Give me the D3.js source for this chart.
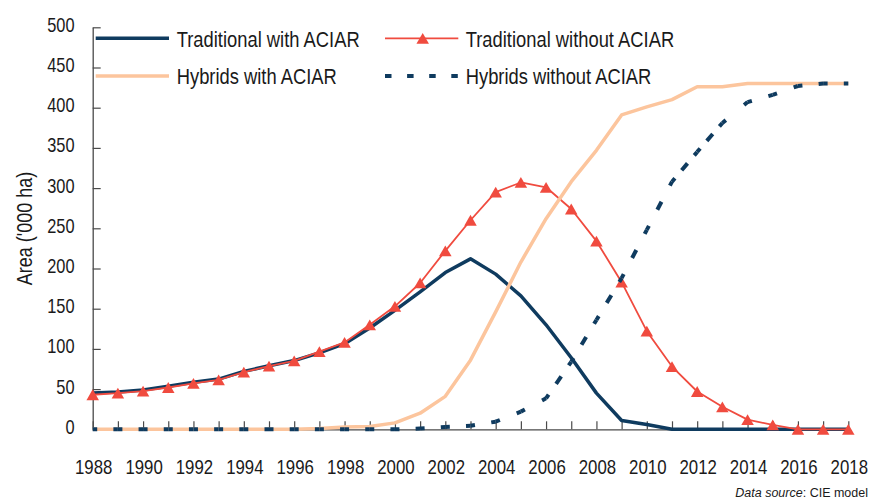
<!DOCTYPE html>
<html><head><meta charset="utf-8">
<script src="https://cdn.jsdelivr.net/npm/d3@7"></script>
<style>html,body{margin:0;padding:0;background:#fff;} svg{display:block;}</style>
</head><body>
<svg id="chart" width="879" height="503"></svg>
<script>
// ---------- data ----------
const years = [1988,1989,1990,1991,1992,1993,1994,1995,1996,1997,1998,1999,2000,2001,2002,2003,2004,2005,2006,2007,2008,2009,2010,2011,2012,2013,2014,2015,2016,2017,2018];
const tradWith    = [45,46.5,49,53.5,58.5,62.5,72,79,85.5,95,106.5,126,148,171,195,212,193,166,130,89,45,11,6,0,0,0,0,0,0,0,0];
const tradWithout = [43,45,47.5,52,57,61.5,71,78.5,85,96.5,108,130,153,182,222,260,295,307,301,274,234,183,122,78,47,28,12,5.5,0,0,0];
const hybWith     = [0,0,0,0,0,0,0,0,0,1,3,3.5,8,20,41,86,146,208,262,308,347,391,401,410,426,426,430,430,430,430,430];
const hybWithout  = [0,0,0,0,0,0,0,0,0,0,0,0,0,1,3,4.5,9.5,22,38.5,84,136,188,248,308,345,381,407,416,427,430,430];
const yTicks = [0,50,100,150,200,250,300,350,400,450,500];
const xTickLabels = [1988,1990,1992,1994,1996,1998,2000,2002,2004,2006,2008,2010,2012,2014,2016,2018];
const seriesNames = ["Traditional with ACIAR","Traditional without ACIAR","Hybrids with ACIAR","Hybrids without ACIAR"];
const yTitle = "Area ('000 ha)";
const sourceItalic = "Data source", sourceRest = ": CIE model";

// ---------- style ----------
const C_BLUE = "#0f3b5f", C_RED = "#f04b3f", C_ORANGE = "#fcc59d", C_AXIS = "#4a4a4a", C_TEXT = "#1a1a1a";

function fontAvailable(name){
  const c = document.createElement('canvas').getContext('2d');
  const s = 'Traditional 1988 ACIAR';
  c.font = '40px monospace'; const w0 = c.measureText(s).width;
  c.font = `40px "${name}", monospace`; const w1 = c.measureText(s).width;
  return Math.abs(w0 - w1) > 0.5;
}
const hasNarrow = fontAvailable('Liberation Sans Narrow');
const FAM = hasNarrow ? '"Liberation Sans Narrow", "Arial Narrow", sans-serif' : '"Liberation Sans", Arial, sans-serif';
const SX = hasNarrow ? 1 : 0.82;

function txt(parent, x, y, s, size, anchor, rot){
  const t = parent.append('text').text(s)
    .attr('font-family', FAM).attr('font-size', size)
    .attr('text-anchor', anchor || 'start').attr('fill', C_TEXT)
    .attr('transform', `translate(${x},${y})${rot ? ` rotate(${rot})` : ''} scale(${SX},1)`);
  return t;
}

const svg = d3.select('#chart');
const x = d3.scaleLinear().domain([1988, 2018]).range([92.7, 848.3]);
const y = d3.scaleLinear().domain([0, 500]).range([429.3, 27.3]);

// ---------- axes ----------
const gy = svg.append('g').attr('transform', `translate(${x(1988)},0)`)
  .call(d3.axisLeft(y).tickValues(yTicks).tickSize(-8).tickSizeOuter(0).tickFormat(''));
const gx = svg.append('g').attr('transform', `translate(0,${y(0)})`)
  .call(d3.axisBottom(x).tickValues(years).tickSize(-8).tickSizeOuter(0).tickFormat(''));
[gy, gx].forEach(g => {
  g.select('.domain').attr('stroke', C_AXIS).attr('stroke-width', 1.3);
  g.selectAll('.tick line').attr('stroke', C_AXIS).attr('stroke-width', 1.2);
});

yTicks.forEach(v => txt(svg, 74.5, y(v) + 4.5, String(v), 20, 'end'));
xTickLabels.forEach(v => txt(svg, x(v) + 1, 474, String(v), 20.5, 'middle'));
txt(svg, 31.5, 228.5, yTitle, 22, 'middle', -90);

// source
const src = svg.append('text').attr('x', 868).attr('y', 497).attr('text-anchor', 'end')
  .attr('font-family', '"Liberation Sans", Arial, sans-serif').attr('font-size', 12.5).attr('fill', C_TEXT);
src.append('tspan').attr('font-style', 'italic').text(sourceItalic);
src.append('tspan').text(sourceRest);

// ---------- series ----------
const pts = vals => years.map((yr, i) => [x(yr), y(vals[i])]);
const line = d3.line();

// Traditional with ACIAR
svg.append('path').attr('d', line(pts(tradWith))).attr('fill', 'none')
  .attr('stroke', C_BLUE).attr('stroke-width', 3.5).attr('stroke-linejoin', 'round');

// Traditional without ACIAR
svg.append('path').attr('d', line(pts(tradWithout))).attr('fill', 'none')
  .attr('stroke', C_RED).attr('stroke-width', 1.8).attr('stroke-linejoin', 'round');
const TW = 12.5, TH = 10.8;
const triType = { draw(ctx){ ctx.moveTo(0, -TH/2); ctx.lineTo(TW/2, TH/2); ctx.lineTo(-TW/2, TH/2); ctx.closePath(); } };
const tri = d3.symbol().type(triType);
svg.append('g').selectAll('path').data(pts(tradWithout)).join('path')
  .attr('d', tri()).attr('transform', d => `translate(${d[0]},${d[1]})`).attr('fill', C_RED);

// Hybrids with ACIAR
svg.append('path').attr('d', line(pts(hybWith))).attr('fill', 'none')
  .attr('stroke', C_ORANGE).attr('stroke-width', 3.5).attr('stroke-linejoin', 'round');

// Hybrids without ACIAR (dash pattern restarted on each segment, dash centred on each point)
const hp = pts(hybWithout);
const DASH = 9;
const segs = d3.pairs(hp);
svg.append('g').selectAll('line').data(segs).join('line')
  .attr('x1', d => d[0][0]).attr('y1', d => d[0][1])
  .attr('x2', d => d[1][0]).attr('y2', d => d[1][1])
  .attr('stroke', C_BLUE).attr('stroke-width', 4)
  .each(function(d){
    const L = Math.hypot(d[1][0]-d[0][0], d[1][1]-d[0][1]);
    const n = Math.max(1, Math.round(L / 25));
    const p = L / n;
    d3.select(this).attr('stroke-dasharray', `${DASH} ${p - DASH}`).attr('stroke-dashoffset', DASH/2);
  });

// ---------- legend ----------
const lg = svg.append('g');
// row 1
lg.append('line').attr('x1', 95.7).attr('x2', 169).attr('y1', 38.3).attr('y2', 38.3)
  .attr('stroke', C_BLUE).attr('stroke-width', 3.5);
txt(lg, 176.7, 46.5, seriesNames[0], 22.4, 'start');
lg.append('line').attr('x1', 385).attr('x2', 458.3).attr('y1', 38.3).attr('y2', 38.3)
  .attr('stroke', C_RED).attr('stroke-width', 1.8);
lg.append('path').attr('d', tri()).attr('transform', 'translate(422.7,38.3)').attr('fill', C_RED);
txt(lg, 465.7, 46.5, seriesNames[1], 22.4, 'start');
// row 2
lg.append('line').attr('x1', 95.7).attr('x2', 169).attr('y1', 76).attr('y2', 76)
  .attr('stroke', C_ORANGE).attr('stroke-width', 3.5);
txt(lg, 176.7, 84, seriesNames[2], 22.4, 'start');
lg.append('line').attr('x1', 385).attr('x2', 459.3).attr('y1', 76).attr('y2', 76)
  .attr('stroke', C_BLUE).attr('stroke-width', 4).attr('stroke-dasharray', '6.5 15.6');
txt(lg, 465.7, 84, seriesNames[3], 22.4, 'start');
</script>
</body></html>
